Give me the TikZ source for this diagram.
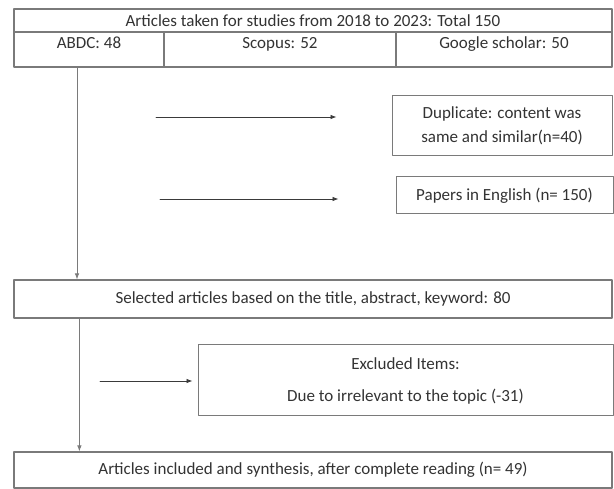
\documentclass[tikz,border=0pt]{standalone}
\usepackage{fontspec}
\setmainfont{Carlito}
\usetikzlibrary{arrows.meta,positioning}
\definecolor{flowInk}{HTML}{333333}
\definecolor{flowLine}{HTML}{7A7A7A}
\definecolor{flowArrow}{HTML}{3A3A3A}

\begin{document}
\begin{tikzpicture}[x=1pt,y=-1pt,>=Latex,line cap=round,line join=round]
\path[fill=white] (0,0) rectangle (614,487);
\tikzset{cell/.style={draw=flowLine,line width=1.4pt,text=flowInk,font=\fontsize{17}{21}\selectfont,inner sep=0pt},box/.style={draw=flowLine,line width=1pt,text=flowInk,font=\fontsize{17}{24}\selectfont,align=center,inner sep=0pt},link/.style={draw=flowArrow,line width=0.8pt,-{Latex[length=6pt,width=4.5pt]}}}
\node[cell,minimum width=598pt,minimum height=23pt] (total) at (313,20.5) {Articles taken for studies from 2018 to 2023: Total 150};
\node[cell,minimum width=150pt,minimum height=35pt,text height=12pt,text depth=14pt] (abdc) at (89,49.5) {ABDC: 48};
\node[cell,minimum width=232pt,minimum height=35pt,text height=12pt,text depth=14pt] (scopus) at (280,49.5) {Scopus: 52};
\node[cell,minimum width=216pt,minimum height=35pt,text height=12pt,text depth=14pt] (scholar) at (504,49.5) {Google scholar: 50};
\node[box,minimum width=220pt,minimum height=60pt] (dup) at (502,126) {Duplicate: content was\\same and similar(n=40)};
\node[box,minimum width=217pt,minimum height=37pt] (papers) at (504.5,195.5) {Papers in English (n= 150)};
\node[box,line width=1.2pt,minimum width=598pt,minimum height=38pt] (selected) at (313,299) {Selected articles based on the title, abstract, keyword: 80};
\node[box,minimum width=415pt,minimum height=71pt] (excluded) at (405.5,380.5) {Excluded Items:\\[8pt]Due to irrelevant to the topic (-31)};
\node[box,line width=1.2pt,minimum width=598pt,minimum height=36pt] (included) at (313,470) {Articles included and synthesis, after complete reading (n= 49)};
% side arrows
\coordinate (dupfrom) at (156,117); \coordinate (papersfrom) at (160,199); \coordinate (exfrom) at (100,381);
\draw[link,shorten >=55pt] (dupfrom) -- (dupfrom -| dup.west);
\draw[link,shorten >=57pt] (papersfrom) -- (papersfrom -| papers.west);
\draw[link,shorten >=5pt] (exfrom) -- (exfrom -| excluded.west);
% main flow
\draw[link,draw=flowLine] ([xshift=-12pt]abdc.south) -- ([xshift=-12pt]abdc.south |- selected.north);
\draw[link,draw=flowLine] ([xshift=66pt]selected.south west) -- ([xshift=66pt]selected.south west |- included.north);
\end{tikzpicture}
\end{document}
